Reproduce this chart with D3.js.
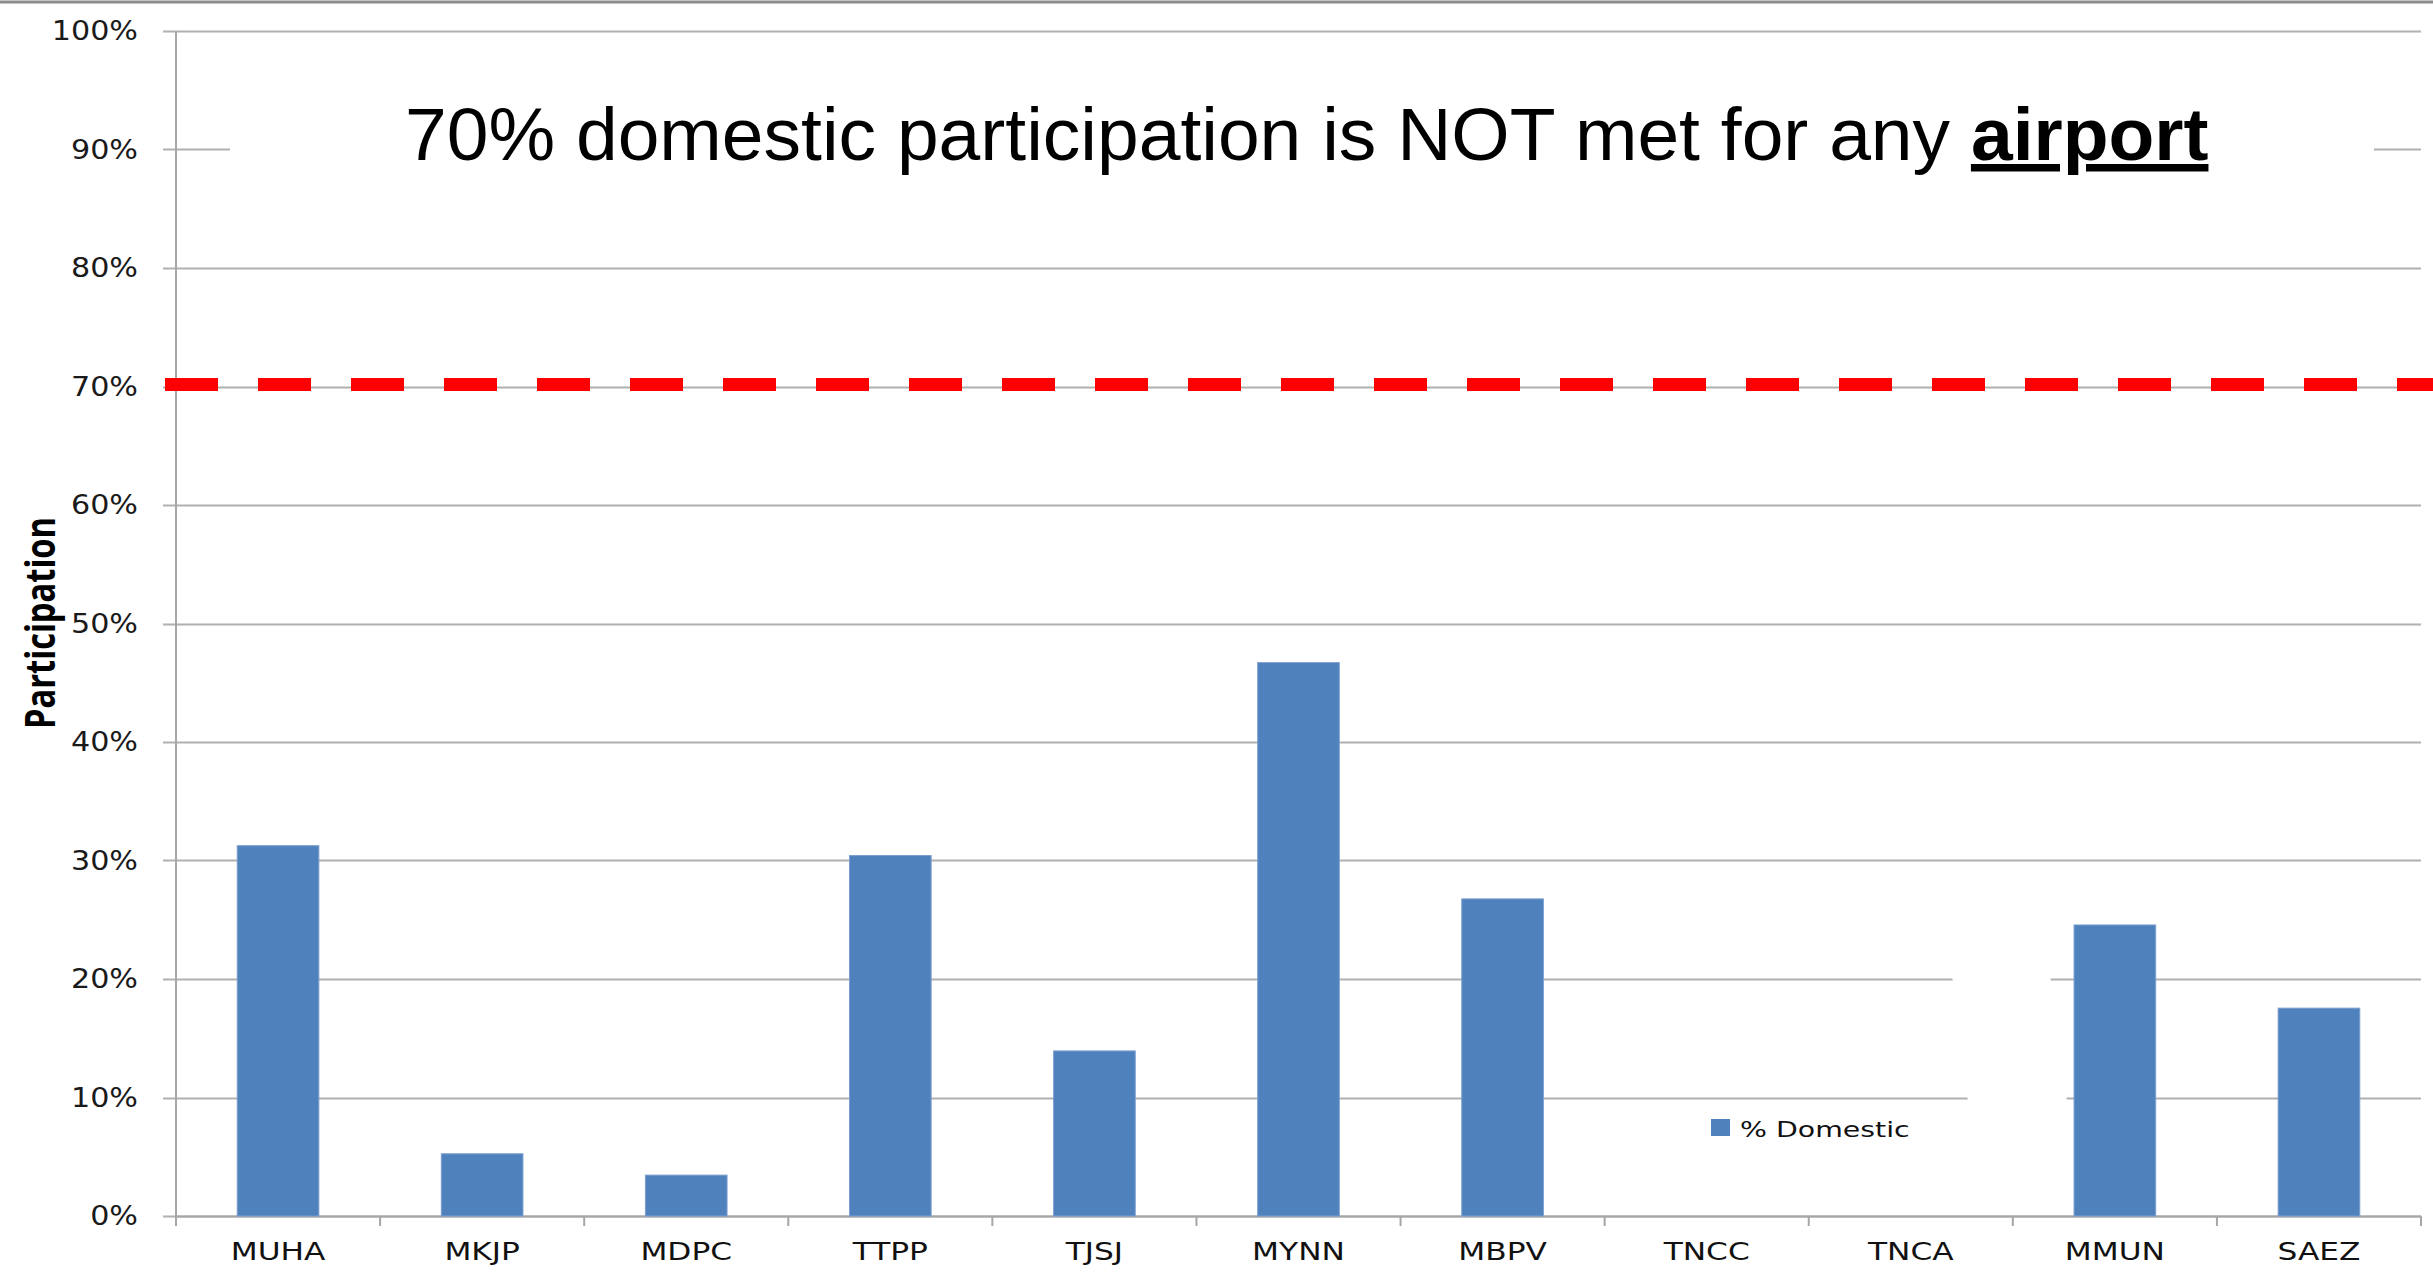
<!DOCTYPE html>
<html>
<head>
<meta charset="utf-8">
<script src="https://cdn.jsdelivr.net/npm/d3@7/dist/d3.min.js"></script>
<style>
  html, body { margin: 0; padding: 0; background: #fff; }
  svg { display: block; }
</style>
</head>
<body>
<svg id="chart" width="2433" height="1275"></svg>
<script>
// Airports on the category axis
const airports = ["MUHA", "MKJP", "MDPC", "TTPP", "TJSJ", "MYNN", "MBPV", "TNCC", "TNCA", "MMUN", "SAEZ"];
// Share of domestic participation per airport
const domesticShare = [0.3125, 0.0525, 0.0345, 0.3042, 0.1393, 0.4670, 0.2676, 0, 0, 0.2456, 0.1754];
// Value axis ticks
const yTicks = [0, 0.1, 0.2, 0.3, 0.4, 0.5, 0.6, 0.7, 0.8, 0.9, 1.0];
// Required domestic participation
const threshold = 0.70;
const seriesName = "% Domestic";
const titleText = "70% domestic participation is NOT met for any ";
const titleEmphasis = "airport";
const yTitle = "Participation";

const W = 2433, H = 1275;
const plot = { left: 176, right: 2421, top: 31, bottom: 1216 };

const svg = d3.select("#chart");

const y = d3.scaleLinear().domain([0, 1]).range([plot.bottom, plot.top]);
const xBand = d3.scaleBand().domain(airports).range([plot.left, plot.right])
  .paddingInner(0.6).paddingOuter(0.3);
const xCat = d3.scaleBand().domain(airports).range([plot.left, plot.right]).padding(0);

// frame line along the top
svg.append("line").attr("x1", 0).attr("x2", W).attr("y1", 2).attr("y2", 2)
  .attr("stroke", "#8c8c8c").attr("stroke-width", 3);

// horizontal gridlines
svg.append("g").selectAll("line").data(yTicks).join("line")
  .attr("x1", plot.left - 13).attr("x2", plot.right)
  .attr("y1", d => Math.round(y(d)) + 0.5).attr("y2", d => Math.round(y(d)) + 0.5)
  .attr("stroke", "#b0b0b0").attr("stroke-width", 2);

// value axis labels
const yAxis = d3.axisLeft(y).tickValues(yTicks).tickFormat(d3.format(".0%")).tickSize(0).tickPadding(0);
const yAxisG = svg.append("g").attr("transform", `translate(${plot.left},0)`).call(yAxis);
yAxisG.select(".domain").remove();
yAxisG.selectAll(".tick text")
  .attr("x", null).attr("dy", null)
  .attr("font-family", "DejaVu Sans").attr("font-size", 26).attr("fill", "#1a1a1a")
  .attr("text-anchor", "end").attr("dominant-baseline", "central")
  .attr("transform", "translate(-38,0) scale(1.16,1)");

// vertical axis line
svg.append("line").attr("x1", plot.left).attr("x2", plot.left)
  .attr("y1", plot.top).attr("y2", plot.bottom)
  .attr("stroke", "#a6a6a6").attr("stroke-width", 2);

// category axis line and boundary ticks
svg.append("line").attr("x1", plot.left).attr("x2", plot.right)
  .attr("y1", plot.bottom + 0.5).attr("y2", plot.bottom + 0.5)
  .attr("stroke", "#a6a6a6").attr("stroke-width", 2);
const bounds = airports.map(a => xCat(a)).concat([plot.right]);
svg.append("g").selectAll("line").data(bounds).join("line")
  .attr("x1", d => d).attr("x2", d => d)
  .attr("y1", plot.bottom).attr("y2", plot.bottom + 10)
  .attr("stroke", "#a6a6a6").attr("stroke-width", 2);

// category labels
const xAxis = d3.axisBottom(xCat).tickSize(0).tickPadding(0);
const xAxisG = svg.append("g").attr("transform", `translate(0,${plot.bottom})`).call(xAxis);
xAxisG.select(".domain").remove();
xAxisG.selectAll(".tick text")
  .attr("y", null).attr("dy", null)
  .attr("font-family", "DejaVu Sans").attr("font-size", 25).attr("fill", "#111")
  .attr("text-anchor", "middle").attr("dominant-baseline", "central")
  .attr("transform", "translate(0,36) scale(1.25,1)");

// bars
svg.append("g").selectAll("rect").data(airports.map((a, i) => ({ a, v: domesticShare[i] })))
  .join("rect")
  .attr("x", d => xBand(d.a))
  .attr("width", xBand.bandwidth())
  .attr("y", d => y(d.v))
  .attr("height", d => y(0) - y(d.v))
  .attr("fill", "#4f81bd")
  .attr("stroke", "#7b9fcf").attr("stroke-width", d => d.v > 0 ? 1 : 0);

// legend backdrop and entry
const y10 = y(0.1), y20 = y(0.2);
svg.append("polygon")
  .attr("points", [[1952, y20 - 4], [2050, y20 - 4], [2067, y10 + 4], [1968, y10 + 4]].map(p => p.join(",")).join(" "))
  .attr("fill", "#fff");
svg.append("rect").attr("x", 1711).attr("y", 1119).attr("width", 19).attr("height", 17).attr("fill", "#4f81bd");
svg.append("text").text(seriesName)
  .attr("font-family", "DejaVu Sans").attr("font-size", 22).attr("fill", "#111")
  .attr("dominant-baseline", "central")
  .attr("transform", "translate(1740,1129) scale(1.29,1)");

// threshold line
svg.append("line")
  .attr("x1", 165).attr("x2", W)
  .attr("y1", y(threshold) - 2).attr("y2", y(threshold) - 2)
  .attr("stroke", "#ff0000").attr("stroke-width", 13)
  .attr("stroke-dasharray", "53 40");

// title with its white backdrop
svg.append("rect").attr("x", 230).attr("y", 60).attr("width", 2374 - 230).attr("height", 170).attr("fill", "#fff");
const title = svg.append("text")
  .attr("x", 405).attr("y", 160)
  .attr("font-family", "Liberation Sans, Arial, sans-serif").attr("font-size", 75).attr("fill", "#000")
  .attr("xml:space", "preserve");
title.append("tspan").text(titleText);
title.append("tspan").text(titleEmphasis).attr("font-weight", "bold").attr("text-decoration", "underline");

// value axis title
svg.append("text").text(yTitle)
  .attr("font-family", "Open Sans").attr("font-weight", "bold").attr("font-size", 42).attr("fill", "#000")
  .attr("text-anchor", "middle").attr("dominant-baseline", "central")
  .attr("textLength", 212).attr("lengthAdjust", "spacingAndGlyphs")
  .attr("transform", "translate(38,623) rotate(-90)");
</script>
</body>
</html>
